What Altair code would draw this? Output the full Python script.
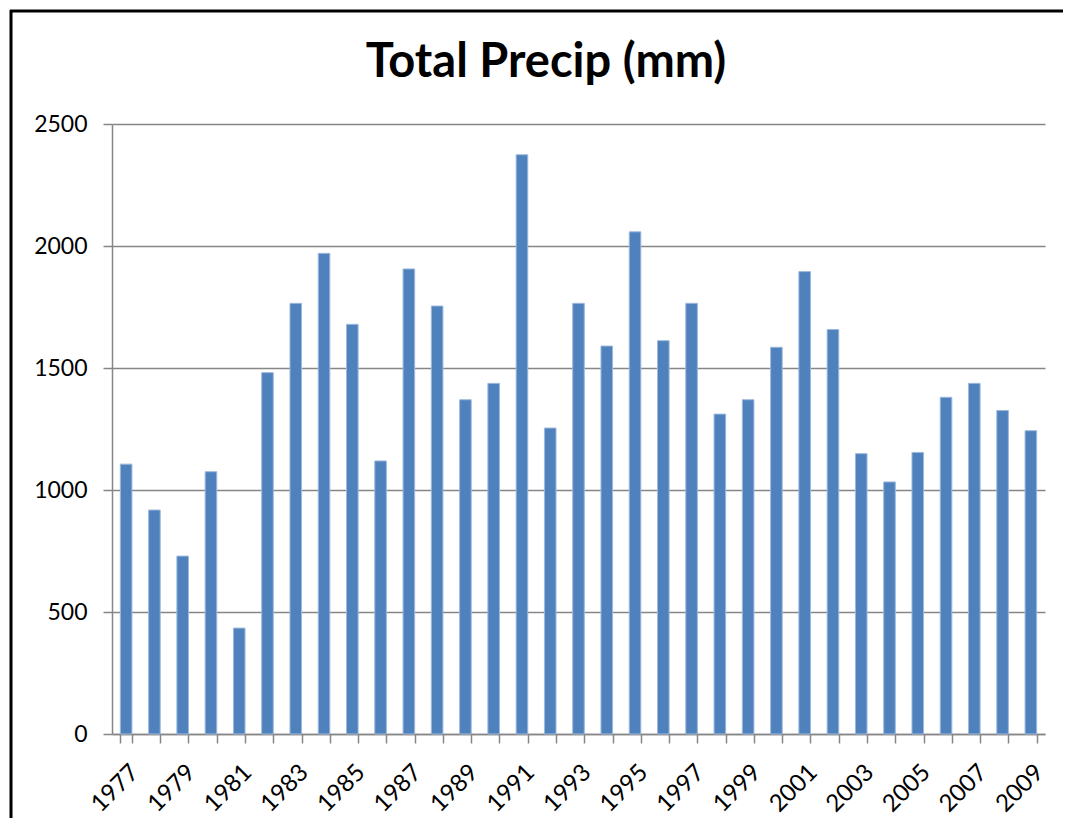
import altair as alt
import pandas as pd

years = list(range(1977, 2010))
precip = [1106, 918, 729, 1075, 434, 1481, 1765, 1970, 1679, 1119,
          1906, 1754, 1370, 1437, 2374, 1254, 1765, 1590, 2058, 1612,
          1765, 1311, 1370, 1585, 1895, 1658, 1149, 1033, 1154, 1380,
          1437, 1326, 1243]
y_ticks = [0, 500, 1000, 1500, 2000, 2500]
title_text = "Total Precip (mm)"

df = pd.DataFrame({"year": [str(y) for y in years], "precip": precip})

font = "Lato"
grey = "#868686"

bars = alt.Chart(df).mark_bar(
    color="#4F81BD", stroke="#9DB9DD", strokeWidth=1
).encode(
    x=alt.X("year:O", title=None,
            scale=alt.Scale(paddingInner=0.59, paddingOuter=0.295),
            axis=alt.Axis(
                labelExpr="(toNumber(datum.value) - 1977) % 2 == 0 ? datum.value : ''",
                labelAngle=-45, labelAlign="right", labelBaseline="top",
                labelFont=font, labelFontSize=24, labelColor="#000000",
                labelPadding=17, labelOverlap=False,
                tickBand="extent", tickSize=9, tickColor=grey, tickWidth=1.5,
                domainColor=grey, domainWidth=1.5, grid=False)),
    y=alt.Y("precip:Q", title=None,
            scale=alt.Scale(domain=[0, 2500], nice=False),
            axis=alt.Axis(values=y_ticks, format="d", labelFont=font, labelFontSize=23,
                          labelColor="#000000", labelPadding=16,
                          tickSize=9, tickColor=grey, tickWidth=1.5,
                          domainColor=grey, domainWidth=1.5,
                          gridColor=grey, gridWidth=1.5)),
)

one = pd.DataFrame({"k": [0]})
frame_left = alt.Chart(one).mark_rule(color="#000000", strokeWidth=3).encode(
    x=alt.value(-101), y=alt.value(-114), y2=alt.value(710))
frame_top = alt.Chart(one).mark_rule(color="#000000", strokeWidth=3).encode(
    x=alt.value(-102), x2=alt.value(970), y=alt.value(-113))
title = alt.Chart(one).mark_text(
    font=font, fontSize=47, fontWeight="bold", color="#000000",
    align="center", baseline="alphabetic"
).encode(x=alt.value(434), y=alt.value(-47), text=alt.value(title_text))

chart = alt.layer(bars, frame_left, frame_top, title).properties(
    width=933, height=610,
    autosize=alt.AutoSizeParams(type="none"),
    padding={"left": 104, "top": 116, "right": 18, "bottom": 84},
).configure_view(stroke=None)

chart.save("out.html", embed_options={"renderer": "svg", "actions": False})
